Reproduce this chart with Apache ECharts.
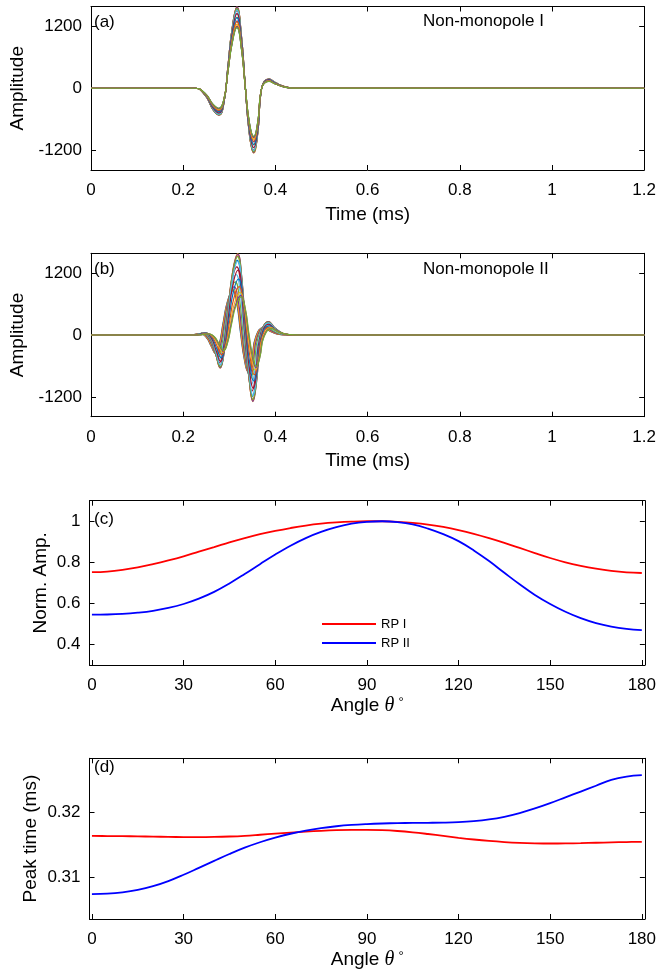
<!DOCTYPE html>
<html><head><meta charset="utf-8">
<script src="https://cdn.jsdelivr.net/npm/echarts@6/dist/echarts.min.js"></script>
<style>html,body{margin:0;padding:0;background:#fff}#c{width:659px;height:971px}</style>
</head><body><div id="c"></div>
<script>
// ---------- DATA ----------
const matlabColors = ['#0072BD','#D95319','#EDB120','#7E2F8E','#77AC30','#4DBEEE','#A2142F'];

// Panel (a): Non-monopole I waveforms (19 receivers, 0..180 deg step 10), shared time grid (ms)
const timeA = [0,0.225,0.248,0.265,0.2775,0.288,0.297,0.306,0.3165,0.3265,0.3347,0.344,0.353,0.362,0.37,0.386,0.40,0.42,0.44,1.2];
const ampA = [
[0,0,-105,-315,-390,-225,315,863,1178,750,23,-690,-938,-638,-8,135,83,23,3,0],
[0,0,-107,-321,-398,-230,321,880,1201,765,23,-704,-956,-650,-8,138,84,23,3,0],
[0,0,-111,-332,-411,-237,332,909,1240,790,24,-727,-988,-672,-8,142,87,24,3,0],
[0,0,-116,-349,-432,-249,349,955,1303,830,25,-764,-1038,-706,-8,149,91,25,3,0],
[0,0,-123,-368,-455,-263,368,1006,1374,875,26,-805,-1094,-744,-9,158,96,26,4,0],
[0,0,-129,-386,-478,-276,386,1058,1444,920,28,-846,-1150,-782,-9,166,101,28,4,0],
[0,0,-134,-401,-497,-287,401,1098,1499,955,29,-879,-1194,-812,-10,172,105,29,4,0],
[0,0,-137,-412,-510,-294,412,1127,1539,980,29,-902,-1225,-833,-10,176,108,29,4,0],
[0,0,-139,-418,-517,-299,418,1144,1562,995,30,-915,-1244,-846,-10,179,109,30,4,0],
[0,0,-140,-420,-520,-300,420,1150,1570,1000,30,-920,-1250,-850,-10,180,110,30,4,0],
[0,0,-140,-419,-519,-299,419,1148,1567,998,30,-918,-1248,-848,-10,180,110,30,4,0],
[0,0,-138,-414,-512,-296,414,1133,1546,985,30,-906,-1231,-837,-10,177,108,30,4,0],
[0,0,-134,-403,-499,-288,403,1104,1507,960,29,-883,-1200,-816,-10,173,106,29,4,0],
[0,0,-129,-386,-478,-276,386,1058,1444,920,28,-846,-1150,-782,-9,166,101,28,4,0],
[0,0,-122,-365,-452,-261,365,1001,1366,870,26,-800,-1088,-740,-9,157,96,26,3,0],
[0,0,-115,-344,-426,-246,344,943,1287,820,25,-754,-1025,-697,-8,148,90,25,3,0],
[0,0,-110,-330,-408,-236,330,903,1232,785,24,-722,-981,-667,-8,141,86,24,3,0],
[0,0,-106,-319,-395,-228,319,874,1193,760,23,-699,-950,-646,-8,137,84,23,3,0],
[0,0,-104,-313,-387,-224,313,857,1170,745,22,-685,-931,-633,-7,134,82,22,3,0]
];

// Panel (b): Non-monopole II waveforms, each receiver with its own time samples (ms)
const timeB = [
[0,0.2154,0.2354,0.2494,0.2604,0.2694,0.2784,0.2864,0.2964,0.3074,0.3164,0.3244,0.3324,0.3404,0.3484,0.3574,0.3744,0.3904,0.4124,0.4374,1.2],
[0,0.2160,0.2360,0.2500,0.2610,0.2700,0.2790,0.2870,0.2970,0.3080,0.3170,0.3250,0.3330,0.3410,0.3490,0.3580,0.3750,0.3910,0.4130,0.4380,1.2],
[0,0.2171,0.2371,0.2511,0.2621,0.2711,0.2801,0.2881,0.2981,0.3091,0.3181,0.3261,0.3341,0.3421,0.3501,0.3591,0.3761,0.3921,0.4141,0.4391,1.2],
[0,0.2186,0.2386,0.2526,0.2636,0.2726,0.2816,0.2896,0.2996,0.3106,0.3196,0.3276,0.3356,0.3436,0.3516,0.3606,0.3776,0.3936,0.4156,0.4406,1.2],
[0,0.2208,0.2408,0.2548,0.2658,0.2748,0.2838,0.2918,0.3018,0.3128,0.3218,0.3298,0.3378,0.3458,0.3538,0.3628,0.3798,0.3958,0.4178,0.4428,1.2],
[0,0.2227,0.2427,0.2567,0.2677,0.2767,0.2857,0.2937,0.3037,0.3147,0.3237,0.3317,0.3397,0.3477,0.3557,0.3647,0.3817,0.3977,0.4197,0.4447,1.2],
[0,0.2242,0.2442,0.2582,0.2692,0.2782,0.2872,0.2952,0.3052,0.3162,0.3252,0.3332,0.3412,0.3492,0.3572,0.3662,0.3832,0.3992,0.4212,0.4462,1.2],
[0,0.2252,0.2452,0.2592,0.2702,0.2792,0.2882,0.2962,0.3062,0.3172,0.3262,0.3342,0.3422,0.3502,0.3582,0.3672,0.3842,0.4002,0.4222,0.4472,1.2],
[0,0.2258,0.2458,0.2598,0.2708,0.2798,0.2888,0.2968,0.3068,0.3178,0.3268,0.3348,0.3428,0.3508,0.3588,0.3678,0.3848,0.4008,0.4228,0.4478,1.2],
[0,0.2261,0.2461,0.2601,0.2711,0.2801,0.2891,0.2971,0.3071,0.3181,0.3271,0.3351,0.3431,0.3511,0.3591,0.3681,0.3851,0.4011,0.4231,0.4481,1.2],
[0,0.2263,0.2463,0.2603,0.2713,0.2803,0.2893,0.2973,0.3073,0.3183,0.3273,0.3353,0.3433,0.3513,0.3593,0.3683,0.3853,0.4013,0.4233,0.4483,1.2],
[0,0.2263,0.2463,0.2603,0.2713,0.2803,0.2893,0.2973,0.3073,0.3183,0.3273,0.3353,0.3433,0.3513,0.3593,0.3683,0.3853,0.4013,0.4233,0.4483,1.2],
[0,0.2264,0.2464,0.2604,0.2714,0.2804,0.2894,0.2974,0.3074,0.3184,0.3274,0.3354,0.3434,0.3514,0.3594,0.3684,0.3854,0.4014,0.4234,0.4484,1.2],
[0,0.2269,0.2469,0.2609,0.2719,0.2809,0.2899,0.2979,0.3079,0.3189,0.3279,0.3359,0.3439,0.3519,0.3599,0.3689,0.3859,0.4019,0.4239,0.4489,1.2],
[0,0.2280,0.2480,0.2620,0.2730,0.2820,0.2910,0.2990,0.3090,0.3200,0.3290,0.3370,0.3450,0.3530,0.3610,0.3700,0.3870,0.4030,0.4250,0.4500,1.2],
[0,0.2294,0.2494,0.2634,0.2744,0.2834,0.2924,0.3004,0.3104,0.3214,0.3304,0.3384,0.3464,0.3544,0.3624,0.3714,0.3884,0.4044,0.4264,0.4514,1.2],
[0,0.2312,0.2512,0.2652,0.2762,0.2852,0.2942,0.3022,0.3122,0.3232,0.3322,0.3402,0.3482,0.3562,0.3642,0.3732,0.3902,0.4062,0.4282,0.4532,1.2],
[0,0.2329,0.2529,0.2669,0.2779,0.2869,0.2959,0.3039,0.3139,0.3249,0.3339,0.3419,0.3499,0.3579,0.3659,0.3749,0.3919,0.4079,0.4299,0.4549,1.2],
[0,0.2336,0.2536,0.2676,0.2786,0.2876,0.2966,0.3046,0.3146,0.3256,0.3346,0.3426,0.3506,0.3586,0.3666,0.3756,0.3926,0.4086,0.4306,0.4556,1.2]
];
const ampB = [
[0,0,25,-38,-213,-349,-164,229,665,856,600,33,-463,-703,-491,-33,142,65,8,0,0],
[0,0,25,-39,-215,-352,-165,231,671,864,605,33,-468,-710,-495,-33,143,66,8,0,0],
[0,0,25,-40,-220,-362,-170,237,689,887,622,34,-480,-729,-509,-34,147,68,8,0,0],
[0,0,27,-42,-232,-381,-179,250,726,934,655,36,-506,-768,-536,-36,155,71,9,0,0],
[0,0,29,-46,-255,-419,-197,275,799,1028,721,39,-557,-845,-590,-39,170,79,10,0,0],
[0,0,34,-52,-291,-477,-224,313,909,1170,820,45,-633,-961,-671,-45,194,89,11,0,0],
[0,0,38,-59,-328,-538,-252,353,1025,1319,924,50,-714,-1084,-756,-50,218,101,13,0,0],
[0,0,41,-64,-359,-589,-276,386,1122,1444,1012,55,-782,-1187,-828,-55,239,110,14,0,0],
[0,0,44,-68,-380,-624,-293,410,1190,1531,1073,59,-829,-1258,-878,-59,254,117,15,0,0],
[0,0,45,-70,-389,-639,-299,419,1218,1567,1098,60,-848,-1287,-898,-60,259,120,15,0,0],
[0,0,45,-70,-388,-637,-299,418,1214,1562,1095,60,-846,-1284,-896,-60,259,119,15,0,0],
[0,0,43,-68,-376,-618,-290,405,1177,1515,1062,58,-820,-1245,-869,-58,251,116,14,0,0],
[0,0,41,-63,-353,-579,-272,380,1104,1421,996,54,-769,-1167,-815,-54,235,109,14,0,0],
[0,0,36,-56,-312,-512,-240,336,976,1256,880,48,-680,-1032,-720,-48,208,96,12,0,0],
[0,0,31,-48,-269,-442,-207,290,842,1083,759,41,-587,-890,-621,-41,179,83,10,0,0],
[0,0,27,-42,-232,-381,-179,250,726,934,655,36,-506,-768,-536,-36,155,71,9,0,0],
[0,0,24,-37,-205,-336,-158,221,641,824,578,32,-446,-677,-473,-32,137,63,8,0,0],
[0,0,22,-34,-189,-310,-146,204,592,761,534,29,-412,-626,-437,-29,126,58,7,0,0],
[0,0,21,-33,-183,-301,-141,197,573,738,517,28,-400,-606,-423,-28,122,56,7,0,0]
];

// Panels (c),(d): radiation patterns vs angle (deg), 5-degree steps
const angle = [0,5,10,15,20,25,30,35,40,45,50,55,60,65,70,75,80,85,90,95,100,105,110,115,120,125,130,135,140,145,150,155,160,165,170,175,180];
const rp1Norm = [0.752,0.755,0.763,0.775,0.791,0.809,0.829,0.852,0.874,0.897,0.918,0.937,0.953,0.967,0.979,0.988,0.994,0.998,1.000,1.000,0.997,0.992,0.984,0.972,0.957,0.939,0.918,0.895,0.870,0.845,0.821,0.800,0.783,0.769,0.758,0.751,0.748];
const rp2Norm = [0.545,0.546,0.549,0.555,0.564,0.578,0.597,0.623,0.656,0.697,0.743,0.791,0.838,0.881,0.918,0.948,0.971,0.988,0.997,1.000,0.996,0.985,0.964,0.937,0.903,0.858,0.806,0.749,0.693,0.641,0.597,0.559,0.528,0.504,0.487,0.476,0.470];
const rp1Peak = [0.31631,0.31630,0.31628,0.31625,0.31621,0.31617,0.31614,0.31613,0.31616,0.31623,0.31634,0.31650,0.31667,0.31683,0.31698,0.31710,0.31719,0.31724,0.31725,0.31720,0.31707,0.31687,0.31661,0.31632,0.31603,0.31577,0.31555,0.31538,0.31526,0.31519,0.31516,0.31517,0.31521,0.31527,0.31533,0.31538,0.31541];
const rp2Peak = [0.30741,0.30747,0.30768,0.30805,0.30862,0.30940,0.31037,0.31143,0.31250,0.31355,0.31452,0.31535,0.31605,0.31665,0.31714,0.31752,0.31780,0.31800,0.31813,0.31822,0.31828,0.31831,0.31833,0.31836,0.31843,0.31858,0.31884,0.31925,0.31982,0.32052,0.32133,0.32222,0.32311,0.32400,0.32490,0.32540,0.32562];

// tick values
const ampTicks = [-1200, 0, 1200];
const angleTicks = [0,30,60,90,120,150,180];
const normTicks = [0.4,0.6,0.8,1];
const peakTicks = [0.31,0.32];

// ---------- CHART ----------
const FONT = '"Liberation Sans", Arial, Helvetica, sans-serif';
const chart = echarts.init(document.getElementById('c'), null, {renderer:'canvas'});

const grids = [
  {left:89.5, top:6.5, width:557.5, height:163.5},
  {left:89.5, top:253.3, width:557.5, height:163.4},
  {left:89.5, top:500.7, width:557.5, height:164.3},
  {left:89.5, top:758.3, width:557.5, height:163.4}
];

function axisCommon(gi, min, max, ticks, interval, margin){
  const a = {type:'value', gridIndex:gi, min:min, max:max, splitLine:{show:false}, nameMoveOverlap:false,
    axisLine:{show:true, onZero:false, lineStyle:{color:'#000', width:1}},
    axisTick:{show:true, inside:true, length:5, lineStyle:{color:'#000', width:1}},
    axisLabel:{show:true, color:'#000', fontSize:17, fontFamily:FONT, margin:margin,
      formatter: v => String(+v.toFixed(6))}};
  if (interval) a.interval = interval;
  if (ticks){ a.axisTick.customValues = ticks; a.axisLabel.customValues = ticks; }
  return a;
}
const nameStyle = {fontSize:19, color:'#000', fontFamily:FONT};
const angleName = {
  name:'Angle {t|θ}{d|°}', nameLocation:'middle', nameGap:31,
  nameTextStyle:{fontSize:19, color:'#000', fontFamily:FONT,
    rich:{t:{fontSize:20, fontStyle:'italic', fontFamily:'"Liberation Serif", serif', color:'#000'},
          d:{fontSize:13, verticalAlign:'top', padding:[0,0,0,4], color:'#000', fontFamily:FONT}}}
};

const xAxes = [], yAxes = [];
const xs = [
  {min:0, max:1.2, interval:0.2, ticks:null, extra:{name:'Time (ms)', nameLocation:'middle', nameGap:35, nameTextStyle:nameStyle}},
  {min:0, max:1.2, interval:0.2, ticks:null, extra:{name:'Time (ms)', nameLocation:'middle', nameGap:35, nameTextStyle:nameStyle}},
  {min:-0.8, max:181, ticks:angleTicks, extra:angleName},
  {min:-0.8, max:181, ticks:angleTicks, extra:angleName}
];
const ys = [
  {min:-1580, max:1580, ticks:ampTicks, extra:{name:'Amplitude', nameGap:64}},
  {min:-1580, max:1580, ticks:ampTicks, extra:{name:'Amplitude', nameGap:64}},
  {min:0.3, max:1.1, ticks:normTicks, extra:{name:'Norm. Amp.', nameGap:39}},
  {min:0.3036, max:0.3282, ticks:peakTicks, extra:{name:'Peak time (ms)', nameGap:49}}
];
for (let g=0; g<4; g++){
  const xb = Object.assign(axisCommon(g, xs[g].min, xs[g].max, xs[g].ticks, xs[g].interval, 12), {position:'bottom'}, xs[g].extra);
  const xt = Object.assign(axisCommon(g, xs[g].min, xs[g].max, xs[g].ticks, xs[g].interval, 12), {position:'top'});
  xt.axisLabel.show = false;
  const yl = Object.assign(axisCommon(g, ys[g].min, ys[g].max, ys[g].ticks, null, 9), {position:'left', nameLocation:'middle', nameTextStyle:nameStyle}, ys[g].extra);
  const yr = Object.assign(axisCommon(g, ys[g].min, ys[g].max, ys[g].ticks, null, 9), {position:'right'});
  yr.axisLabel.show = false;
  xAxes.push(xb, xt); yAxes.push(yl, yr);
}

const series = [];
ampA.forEach((vals, k) => {
  series.push({type:'line', name:'a'+k, xAxisIndex:0, yAxisIndex:0, silent:true, symbol:'none', smooth:0.5,
    data: timeA.map((t,i) => [t, vals[i]]), lineStyle:{width:1.2, color:matlabColors[k % 7]}});
});
ampB.forEach((vals, k) => {
  series.push({type:'line', name:'b'+k, xAxisIndex:2, yAxisIndex:2, silent:true, symbol:'none', smooth:0.5,
    data: timeB[k].map((t,i) => [t, vals[i]]), lineStyle:{width:1.2, color:matlabColors[k % 7]}});
});
series.push({type:'line', name:'RP I', xAxisIndex:4, yAxisIndex:4, symbol:'none', smooth:0.4,
  data: angle.map((a,i)=>[a, rp1Norm[i]]), lineStyle:{width:1.8, color:'#FF0000'}, itemStyle:{color:'#FF0000'}});
series.push({type:'line', name:'RP II', xAxisIndex:4, yAxisIndex:4, symbol:'none', smooth:0.4,
  data: angle.map((a,i)=>[a, rp2Norm[i]]), lineStyle:{width:1.8, color:'#0000FF'}, itemStyle:{color:'#0000FF'}});
series.push({type:'line', name:'RP I peak', xAxisIndex:6, yAxisIndex:6, symbol:'none', smooth:0.4,
  data: angle.map((a,i)=>[a, rp1Peak[i]]), lineStyle:{width:1.8, color:'#FF0000'}});
series.push({type:'line', name:'RP II peak', xAxisIndex:6, yAxisIndex:6, symbol:'none', smooth:0.4,
  data: angle.map((a,i)=>[a, rp2Peak[i]]), lineStyle:{width:1.8, color:'#0000FF'}});

const tStyle = {fontSize:17, fontWeight:'normal', color:'#000', fontFamily:FONT};
chart.setOption({
  animation:false,
  backgroundColor:'#fff',
  grid: grids,
  xAxis: xAxes,
  yAxis: yAxes,
  title: [
    {text:'(a)', left:94, top:14, padding:0, textStyle:tStyle},
    {text:'Non-monopole I', left:423, top:13, padding:0, textStyle:tStyle},
    {text:'(b)', left:94, top:261, padding:0, textStyle:tStyle},
    {text:'Non-monopole II', left:423, top:261, padding:0, textStyle:tStyle},
    {text:'(c)', left:94, top:511, padding:0, textStyle:tStyle},
    {text:'(d)', left:94, top:759, padding:0, textStyle:tStyle}
  ],
  legend: {data:['RP I','RP II'], orient:'vertical', left:322, top:617, icon:'rect', itemWidth:54, itemHeight:2, itemGap:5,
    padding:0, selectedMode:false, textStyle:{fontSize:13, lineHeight:14, color:'#000', fontFamily:FONT}},
  series: series
});
</script></body></html>
